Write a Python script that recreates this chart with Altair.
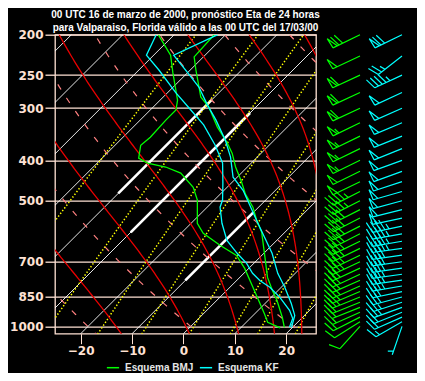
import numpy as np
import pandas as pd
import altair as alt

# ---------------- data ----------------
TITLE = ["00 UTC 16 de marzo de 2000, pronóstico Eta de 24 horas",
         "para Valparaiso, Florida válido a las 00 UTC del 17/03/00"]
MODELS = ["Esquema BMJ", "Esquema KF"]
COLORS = ["#00ff00", "#00ffff"]
P_TICKS = [200, 250, 300, 400, 500, 700, 850, 1000]
T_TICKS = [-20, -10, 0, 10, 20]

# BMJ temperature / dew point (hPa, degC)
BMJ_T_P = [1005, 952, 866, 820, 763, 683, 595, 557, 518, 482, 449, 415, 385, 364, 333, 298, 282, 243, 226, 200]
BMJ_T = [18.4, 16.1, 11.7, 8.9, 5.4, 1.0, -4.5, -7.8, -11.1, -15.1, -18.4, -22.3, -25.6, -28.5, -33.6, -39.2, -42.7, -48.9, -51.8, -52.2]
BMJ_TD_P = [1008, 978, 931, 806, 726, 676, 639, 598, 566, 498, 464, 429, 415, 406, 395, 368, 352, 320, 303, 287, 247, 224, 200]
BMJ_TD = [17.7, 14.2, 11.8, 4.5, -0.8, -4.9, -10.1, -15.7, -18.8, -23.3, -26.6, -31.8, -35.9, -40.2, -42.9, -45.0, -44.7, -45.0, -45.0, -46.6, -52.8, -56.7, -63.1]
# KF temperature / dew point
KF_T_P = [1005, 941, 881, 806, 746, 668, 566, 472, 439, 393, 358, 320, 295, 267, 247, 224, 200]
KF_T = [19.8, 18.1, 15.1, 10.7, 6.6, 1.6, -7.0, -16.3, -20.8, -25.2, -29.5, -35.3, -39.8, -45.0, -49.9, -56.1, -51.5]
KF_TD_P = [1005, 957, 915, 852, 806, 776, 746, 706, 668, 622, 566, 518, 498, 454, 406, 368, 329, 303, 275, 243, 224, 200]
KF_TD = [19.4, 18.3, 16.1, 11.7, 7.8, 4.5, 1.7, -1.4, -5.2, -9.7, -14.0, -17.5, -18.4, -21.6, -25.6, -30.5, -36.7, -42.1, -48.5, -56.1, -61.4, -63.5]

# winds every 25 hPa from 1000 to 200 (knots, direction from)
BARB_P = list(range(1000, 175, -25))
BMJ_SPD = [8, 12, 15, 15, 20, 20, 25, 25, 25, 30, 30, 30, 35, 35, 35, 35, 40, 40, 40, 40, 45, 45, 50, 50, 55, 55, 55, 55, 60, 60, 60, 50, 70]
BMJ_DIR = [222, 238, 243, 246, 248, 248, 248, 247, 246, 246, 245, 245, 245, 244, 244, 244, 243, 243, 243, 243, 243, 243, 244, 244, 244, 244, 244, 244, 245, 245, 245, 245, 244]
KF_SPD = [5, 15, 20, 20, 25, 25, 30, 30, 35, 35, 35, 40, 40, 40, 45, 45, 45, 45, 50, 50, 50, 50, 50, 50, 50, 50, 50, 50, 50, 50, 45, 25, 70]
KF_DIR = [199, 240, 246, 248, 250, 252, 255, 258, 260, 262, 262, 262, 262, 262, 262, 260, 260, 258, 258, 256, 255, 254, 252, 250, 250, 248, 248, 247, 246, 245, 245, 232, 244]

# background diagram lines (values of the families)
ISOTHERMS = list(range(-120, 40, 10))
THICK_ISO = [(-40, 480, 287), (-30, 595, 308), (-10, 776, 533)]
DRY_THETA_C = list(range(-40, 260, 20))
MOIST_THETAE = [262, 282, 302, 322, 342, 362, 382, 402]
MIX_RATIO = [0.1, 0.4, 1, 2, 4, 7, 10, 16, 24]

# ---------------- geometry of the skew-T ----------------
P_TOP, P_BOT = 200, 1041
T_MIN, T_MAX = -25.0, 25.8
W, H = 261, 299
SKEW = (H / np.log(P_BOT / P_TOP)) / (W / (T_MAX - T_MIN))
PGRID = np.geomspace(1060, 185, 140)


def sx(t, p):
    return np.asarray(t, float) + SKEW * np.log(P_BOT / np.asarray(p, float))


def curves_df(curves):
    rows = []
    for cid, p, t in curves:
        p = np.asarray(p, float)
        t = np.asarray(t, float)
        for i, (pp, tt) in enumerate(zip(p, t)):
            rows.append({"id": str(cid), "i": i, "p": pp, "x": float(sx(tt, pp))})
    return pd.DataFrame(rows)


def es(tc):
    return 6.112 * np.exp(17.67 * tc / (tc + 243.5))


def theta_e(tk, p):
    r = 622.0 * es(tk - 273.15) / (p - es(tk - 273.15))
    return tk * (1000.0 / p) ** (0.2854 * (1 - 0.00028 * r)) * np.exp((3.376 / tk - 0.00254) * r * (1 + 0.00081 * r))


def moist_T(the, p):
    lo = np.full_like(p, 150.0)
    hi = np.full_like(p, 318.0)
    for _ in range(60):
        mid = 0.5 * (lo + hi)
        f = theta_e(mid, p) > the
        hi = np.where(f, mid, hi)
        lo = np.where(f, lo, mid)
    return 0.5 * (lo + hi) - 273.15


def mix_Td(w, p):
    e = w * p / (622.0 + w)
    a = np.log(e / 6.112)
    return 243.5 * a / (17.67 - a)


iso_df = curves_df([(t, [1060, 185], [t, t]) for t in ISOTHERMS])
thick_df = curves_df([(f"{t}_{a}", [a, b], [t, t]) for t, a, b in THICK_ISO])
dry_df = curves_df([(th, PGRID, (th + 273.15) * (PGRID / 1000.0) ** 0.2857 - 273.15) for th in DRY_THETA_C])
moist_df = curves_df([(th, PGRID, moist_T(th, PGRID)) for th in MOIST_THETAE])
mix_df = curves_df([(w, PGRID, mix_Td(w, PGRID)) for w in MIX_RATIO])

prof_parts = []
for model, series in [(MODELS[0], [(BMJ_T_P, BMJ_T, "t"), (BMJ_TD_P, BMJ_TD, "td")]),
                      (MODELS[1], [(KF_T_P, KF_T, "t"), (KF_TD_P, KF_TD, "td")])]:
    for p, t, k in series:
        d = curves_df([(model + k, p, t)])
        d["model"] = model
        prof_parts.append(d)
prof_df = pd.concat(prof_parts, ignore_index=True)


def barb_path(speed):
    s = int(5 * round(speed / 5.0))
    parts = ["M0,0L0,-1"]
    fx, fy = 0.36, -0.14
    step = 0.14
    y = -1.0
    n50, rem = divmod(s, 50)
    n10, rem = divmod(rem, 10)
    n5 = rem // 5
    for _ in range(n50):
        parts.append(f"M0,{y:.3f}L{fx:.3f},{y - 0.04:.3f}L0,{y + 0.16:.3f}")
        y += 0.22
    for _ in range(n10):
        parts.append(f"M0,{y:.3f}L{fx:.3f},{y + fy:.3f}")
        y += step
    if n5:
        if s < 10:
            y += step
        parts.append(f"M0,{y:.3f}L{fx / 2:.3f},{y + fy / 2:.3f}")
    return "".join(parts)


def barb_df(spd, dr):
    return pd.DataFrame({"p": BARB_P, "spd": spd, "dir": dr,
                         "path": [barb_path(s) for s in spd]})


# ---------------- chart ----------------
PINK = "#ffe2d4"
xscale = alt.Scale(domain=[T_MIN, T_MAX], nice=False, zero=False)
yscale = alt.Scale(type="log", domain=[P_TOP, P_BOT], reverse=True, nice=False, zero=False)
xaxis = alt.Axis(values=T_TICKS, title=None, grid=False, tickSize=10, tickColor=PINK,
                 domain=False, labelColor=PINK, labelFont="DejaVu Sans", labelFontWeight="bold",
                 labelFontSize=12, labelPadding=2, format="d")
yaxis = alt.Axis(values=P_TICKS, title=None, grid=True, gridColor=PINK, gridWidth=1.3, gridOpacity=1,
                 tickSize=10, tickColor=PINK, tickWidth=1.3, domain=False, labelColor=PINK,
                 labelFont="DejaVu Sans", labelFontWeight="bold", labelFontSize=12, labelPadding=2,
                 format="d")

X = alt.X("x:Q", scale=xscale, axis=xaxis)
Y = alt.Y("p:Q", scale=yscale, axis=yaxis)


def lines(df, **mk):
    return alt.Chart(df).mark_line(clip=True, **mk).encode(
        x=X, y=Y, detail="id:N", order="i:Q")


iso = lines(iso_df, color="#ffffff", strokeWidth=0.9)
thick = lines(thick_df, color="#ffffff", strokeWidth=2.6)
dry = lines(dry_df, color="#ff8080", strokeWidth=1.2, strokeDash=[6, 10])
moist = lines(moist_df, color="#e80000", strokeWidth=1.3)
mix = lines(mix_df, color="#ffff00", strokeWidth=1.5, strokeDash=[1.4, 2.0])

prof = alt.Chart(prof_df).mark_line(clip=True, strokeWidth=1.3).encode(
    x=X, y=Y, detail="id:N", order="i:Q",
    color=alt.Color("model:N", scale=alt.Scale(domain=MODELS, range=COLORS),
                    legend=alt.Legend(orient="none", legendX=51, legendY=326, direction="horizontal",
                                      title=None, symbolType="stroke", symbolSize=150,
                                      symbolStrokeWidth=1.5, labelFont="Liberation Sans",
                                      labelFontWeight="bold", labelFontSize=10,
                                      labelColor="#e6e6e6", columnPadding=2, labelOffset=5,
                                      padding=0)))


def barbs(df, color, xpos):
    return alt.Chart(df).mark_point(size=3600, filled=False, strokeWidth=1.2, color=color,
                                    opacity=1).encode(
        x=alt.value(xpos), y=alt.Y("p:Q", scale=yscale, axis=yaxis),
        shape=alt.Shape("path:N", scale=None),
        angle=alt.Angle("dir:Q", scale=None))


b1 = barbs(barb_df(BMJ_SPD, BMJ_DIR), COLORS[0], 305)
b2 = barbs(barb_df(KF_SPD, KF_DIR), COLORS[1], 347)

chart = alt.layer(iso, thick, dry, mix, moist, prof, b1, b2).properties(
    width=W, height=H,
    title=alt.Title(TITLE, color="#ffffff", font="Liberation Sans", fontWeight="bold",
                    fontSize=10, lineHeight=12.5, anchor="middle", offset=-4),
    autosize=alt.AutoSizeParams(type="none"),
    padding={"left": 47, "top": 26.7, "right": 101, "bottom": 39.3},
    background="#000000",
).configure_view(stroke=PINK, strokeWidth=1.3)

chart.save("out.html", embed_options={"renderer": "svg", "actions": False})
